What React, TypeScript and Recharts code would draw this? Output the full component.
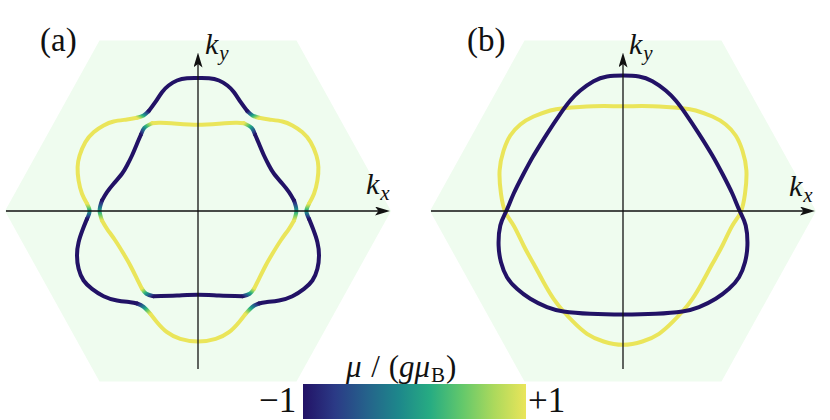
import React from 'react';
import { ComposedChart, Area, Line, XAxis, YAxis, ReferenceLine } from 'recharts';

// kx, ky (hexagon corner at kx = 1.93), third value = mu / (g muB)
// 0 marks the avoided crossings where the spin texture flips sign
type Pt = [number, number, number];

const HEX_KX = [-1.93, -0.985, 0.985, 1.93];
const HEX_KY = [0, 1.705, 1.705, 0];

const KX_AXIS = [-1.92, 1.92];
const KY_AXIS = [-1.58, 1.585];

// panel (a), outer band
const OUTER_A: Pt[] = [
  [0, 1.33, -1], [-0.11, 1.328, -1], [-0.21, 1.305, -1], [-0.294, 1.255, -1], [-0.36, 1.188, -1],
  [-0.427, 1.088, -1], [-0.494, 0.998, -1], [-0.544, 0.955, 0], [-0.61, 0.932, 1], [-0.71, 0.915, 1],
  [-0.844, 0.895, 1], [-0.944, 0.855, 1], [-1.044, 0.788, 1], [-1.127, 0.688, 1], [-1.184, 0.555, 1],
  [-1.204, 0.438, 1], [-1.194, 0.305, 1], [-1.16, 0.172, 1], [-1.11, 0.072, 1], [-1.084, 0, 0],
  [-1.11, -0.078, -1], [-1.15, -0.178, -1], [-1.194, -0.312, -1], [-1.21, -0.445, -1], [-1.194, -0.578, -1],
  [-1.144, -0.695, -1], [-1.06, -0.778, -1], [-0.944, -0.852, -1], [-0.81, -0.895, -1], [-0.677, -0.912, -1],
  [-0.61, -0.925, -1], [-0.544, -0.958, 0], [-0.477, -1.028, 1], [-0.41, -1.112, 1], [-0.31, -1.212, 1],
  [-0.177, -1.278, 1], [0, -1.305, 1], [0.177, -1.278, 1], [0.31, -1.212, 1], [0.41, -1.112, 1],
  [0.477, -1.028, 1], [0.544, -0.958, 0], [0.61, -0.925, -1], [0.677, -0.912, -1], [0.81, -0.895, -1],
  [0.944, -0.852, -1], [1.06, -0.778, -1], [1.144, -0.695, -1], [1.194, -0.578, -1], [1.21, -0.445, -1],
  [1.194, -0.312, -1], [1.15, -0.178, -1], [1.11, -0.078, -1], [1.084, 0, 0], [1.11, 0.072, 1],
  [1.16, 0.172, 1], [1.194, 0.305, 1], [1.204, 0.438, 1], [1.184, 0.555, 1], [1.127, 0.688, 1],
  [1.044, 0.788, 1], [0.944, 0.855, 1], [0.844, 0.895, 1], [0.71, 0.915, 1], [0.61, 0.932, 1],
  [0.544, 0.955, 0], [0.494, 0.998, -1], [0.427, 1.088, -1], [0.36, 1.188, -1], [0.294, 1.255, -1],
  [0.21, 1.305, -1], [0.11, 1.328, -1],
];

// panel (a), inner band
const INNER_A: Pt[] = [
  [0, 0.862, 1], [-0.21, 0.872, 1], [-0.377, 0.882, 1], [-0.46, 0.878, 1], [-0.537, 0.832, 0],
  [-0.57, 0.765, -1], [-0.61, 0.672, -1], [-0.66, 0.555, -1], [-0.71, 0.455, -1], [-0.76, 0.372, -1],
  [-0.844, 0.272, -1], [-0.91, 0.188, -1], [-0.96, 0.105, -1], [-0.984, 0.005, 0], [-0.96, -0.095, 1],
  [-0.91, -0.178, 1], [-0.827, -0.295, 1], [-0.744, -0.428, 1], [-0.677, -0.545, 1], [-0.61, -0.678, 1],
  [-0.56, -0.778, 1], [-0.517, -0.828, 0], [-0.444, -0.852, -1], [-0.21, -0.845, -1], [0, -0.838, -1],
  [0.21, -0.845, -1], [0.444, -0.852, -1], [0.517, -0.828, 0], [0.56, -0.778, 1], [0.61, -0.678, 1],
  [0.677, -0.545, 1], [0.744, -0.428, 1], [0.827, -0.295, 1], [0.91, -0.178, 1], [0.96, -0.095, 1],
  [0.984, 0.005, 0], [0.96, 0.105, -1], [0.91, 0.188, -1], [0.844, 0.272, -1], [0.76, 0.372, -1],
  [0.71, 0.455, -1], [0.66, 0.555, -1], [0.61, 0.672, -1], [0.57, 0.765, -1], [0.537, 0.832, 0],
  [0.46, 0.878, 1], [0.377, 0.882, 1], [0.21, 0.872, 1],
];

// panel (b), spin-down band (triangle pointing up)
const BLUE_B: Pt[] = [
  [-0.894, 0.555, -1], [-0.76, 0.772, -1], [-0.627, 0.972, -1], [-0.527, 1.105, -1], [-0.427, 1.205, -1],
  [-0.294, 1.298, -1], [-0.16, 1.345, -1], [0, 1.355, -1], [0.16, 1.345, -1], [0.294, 1.298, -1],
  [0.427, 1.205, -1], [0.527, 1.105, -1], [0.627, 0.972, -1], [0.76, 0.772, -1], [0.894, 0.555, -1],
  [0.994, 0.372, -1], [1.094, 0.172, -1], [1.167, 0, -1], [1.227, -0.145, -1], [1.244, -0.345, -1],
  [1.22, -0.512, -1], [1.16, -0.662, -1], [1.06, -0.778, -1], [0.927, -0.878, -1], [0.76, -0.962, -1],
  [0.594, -1.005, -1], [0.327, -1.028, -1], [0, -1.035, -1], [-0.327, -1.028, -1], [-0.594, -1.005, -1],
  [-0.76, -0.962, -1], [-0.927, -0.878, -1], [-1.06, -0.778, -1], [-1.16, -0.662, -1], [-1.22, -0.512, -1],
  [-1.244, -0.345, -1], [-1.227, -0.145, -1], [-1.167, 0, -1], [-1.094, 0.172, -1], [-0.994, 0.372, -1],
];

// panel (b), spin-up band (triangle pointing down)
const YELLOW_B: Pt[] = [
  [-0.894, -0.528, 1], [-0.794, -0.712, 1], [-0.694, -0.878, 1], [-0.594, -1.005, 1], [-0.494, -1.112, 1],
  [-0.36, -1.228, 1], [-0.194, -1.305, 1], [0, -1.338, 1], [0.194, -1.305, 1], [0.36, -1.228, 1],
  [0.494, -1.112, 1], [0.594, -1.005, 1], [0.694, -0.878, 1], [0.794, -0.712, 1], [0.894, -0.528, 1],
  [0.994, -0.345, 1], [1.094, -0.145, 1], [1.177, -0.012, 1], [1.22, 0.172, 1], [1.234, 0.405, 1],
  [1.194, 0.605, 1], [1.127, 0.755, 1], [1.027, 0.865, 1], [0.894, 0.945, 1], [0.727, 1.005, 1],
  [0.594, 1.028, 1], [0.294, 1.048, 1], [0, 1.048, 1], [-0.294, 1.048, 1], [-0.594, 1.028, 1],
  [-0.727, 1.005, 1], [-0.894, 0.945, 1], [-1.027, 0.865, 1], [-1.127, 0.755, 1], [-1.194, 0.605, 1],
  [-1.234, 0.405, 1], [-1.22, 0.172, 1], [-1.177, -0.012, 1], [-1.094, -0.145, 1], [-0.994, -0.345, 1],
];

const CBAR_RANGE = ['\u22121', '+1'];
const CMAP = ['#221266', '#2b3a86', '#25628b', '#1d878b', '#27ac82', '#63c86b', '#acd95c', '#eae55a'];

const W = 400;
const H = 360;
const TOP = 30.5;
const FONT = "'Liberation Serif', 'DejaVu Serif', serif";

const hexData = HEX_KX.map((x, i) => ({ x, r: [-HEX_KY[i], HEX_KY[i]] }));
const muColor = (mu: number) => (mu < 0 ? CMAP[0] : CMAP[CMAP.length - 1]);
const toXY = (p: Pt) => ({ x: p[0], y: p[1] });

// cut a closed band into solid runs and short fading runs around each spin flip
function splitLoop(loop: Pt[]) {
  const n = loop.length;
  const at = (i: number) => loop[((i % n) + n) % n];
  const flips = loop.map((p, i) => (p[2] === 0 ? i : -1)).filter((i) => i >= 0);
  const bodies: { mu: number; data: { x: number; y: number }[] }[] = [];
  const fades: { from: number; to: number; data: { x: number; y: number }[] }[] = [];
  if (!flips.length) {
    bodies.push({ mu: loop[0][2], data: [...loop, loop[0], loop[1]].map(toXY) });
    return { bodies, fades };
  }
  flips.forEach((t, k) => {
    const next = k + 1 < flips.length ? flips[k + 1] : flips[0] + n;
    const run: Pt[] = [];
    for (let i = t + 1; i <= next - 1; i++) run.push(at(i));
    bodies.push({ mu: run[0][2], data: run.map(toXY) });
    fades.push({ from: at(t - 1)[2], to: at(t + 1)[2], data: [at(t - 1), at(t), at(t + 1)].map(toXY) });
  });
  return { bodies, fades };
}

function Panel({ id, left, loops }: { id: string; left: number; loops: Pt[][] }) {
  const parts = loops.map(splitLoop);
  const grads: React.ReactNode[] = [];
  const lines: React.ReactNode[] = [];
  parts.forEach((p, li) => {
    p.bodies.forEach((b, bi) => {
      lines.push(
        <Line key={`${id}-b-${li}-${bi}`} data={b.data} dataKey="y" type="natural" stroke={muColor(b.mu)}
          strokeWidth={4} strokeLinecap="round" dot={false} activeDot={false} isAnimationActive={false} />
      );
    });
  });
  parts.forEach((p, li) => {
    p.fades.forEach((f, fi) => {
      const gid = `${id}-g-${li}-${fi}`;
      const a = f.data[0];
      const b = f.data[2];
      const x1 = a.x < b.x ? 0 : a.x > b.x ? 1 : 0.5;
      const y1 = a.y > b.y ? 0 : a.y < b.y ? 1 : 0.5;
      const stops = f.from < 0 ? CMAP : [...CMAP].reverse();
      grads.push(
        <linearGradient key={gid} id={gid} x1={x1} y1={y1} x2={1 - x1} y2={1 - y1}>
          {stops.map((c, i) => <stop key={i} offset={i / (stops.length - 1)} stopColor={c} />)}
        </linearGradient>
      );
      lines.push(
        <Line key={gid} data={f.data} dataKey="y" type="natural" stroke={`url(#${gid})`}
          strokeWidth={4} strokeLinecap="round" dot={false} activeDot={false} isAnimationActive={false} />
      );
    });
  });

  return (
    <div style={{ position: 'absolute', left, top: TOP, width: W, height: H }}>
      <svg width={0} height={0} style={{ position: 'absolute' }}>
        <defs>{grads}</defs>
      </svg>
      <ComposedChart width={W} height={H} data={hexData} margin={{ top: 0, right: 0, bottom: 0, left: 0 }}>
        <XAxis type="number" dataKey="x" domain={[-2, 2]} hide allowDataOverflow />
        <YAxis type="number" domain={[-1.8, 1.8]} hide allowDataOverflow />
        <Area type="linear" dataKey="r" stroke="none" fill="#effcef" fillOpacity={1} isAnimationActive={false} />
        {lines}
        <ReferenceLine segment={[{ x: KX_AXIS[0], y: 0 }, { x: KX_AXIS[1] - 0.04, y: 0 }]} stroke="#111"
          strokeWidth={1.3} markerEnd="url(#arrowHead)" />
        <ReferenceLine segment={[{ x: 0, y: KY_AXIS[0] }, { x: 0, y: KY_AXIS[1] - 0.04 }]} stroke="#111"
          strokeWidth={1.3} markerEnd="url(#arrowHead)" />
      </ComposedChart>
    </div>
  );
}

function KLabel({ x, y, sub }: { x: number; y: number; sub: string }) {
  return (
    <text x={x} y={y} fontFamily={FONT} fontSize={30} fill="#111">
      <tspan fontStyle="italic">k</tspan>
      <tspan fontStyle="italic" fontSize={21} dx={1} dy={6}>{sub}</tspan>
    </text>
  );
}

export default function App() {
  return (
    <div style={{ position: 'absolute', left: 0, top: 0, width: 830, height: 420, background: '#fff', overflow: 'hidden' }}>
      <Panel id="pa" left={-2} loops={[OUTER_A, INNER_A]} />
      <Panel id="pb" left={423} loops={[YELLOW_B, BLUE_B]} />
      <svg width={830} height={420} style={{ position: 'absolute', left: 0, top: 0, pointerEvents: 'none' }}>
        <defs>
          <marker id="arrowHead" markerUnits="userSpaceOnUse" markerWidth={15} markerHeight={9}
            refX={11} refY={4.5} orient="auto">
            <path d="M0,0 L15,4.5 L0,9 L3.5,4.5 Z" fill="#111" />
          </marker>
          <linearGradient id="cbar" x1={0} y1={0} x2={1} y2={0}>
            {CMAP.map((c, i) => <stop key={i} offset={i / (CMAP.length - 1)} stopColor={c} />)}
          </linearGradient>
        </defs>
        <text x={40} y={51} fontFamily={FONT} fontSize={33} fill="#111">(a)</text>
        <text x={467} y={51} fontFamily={FONT} fontSize={33} fill="#111">(b)</text>
        <KLabel x={205} y={54} sub="y" />
        <KLabel x={366} y={194} sub="x" />
        <KLabel x={629} y={54} sub="y" />
        <KLabel x={789} y={196} sub="x" />
        <rect x={303} y={384} width={223} height={35} fill="url(#cbar)" />
        <text x={346} y={377} fontFamily={FONT} fontSize={31} fill="#111">
          <tspan fontStyle="italic">μ</tspan>
          <tspan dx={2}> / </tspan>
          <tspan dx={1}>(</tspan>
          <tspan fontStyle="italic">gμ</tspan>
          <tspan fontSize={21} dx={1} dy={5}>B</tspan>
          <tspan dx={1} dy={-5}>)</tspan>
        </text>
        <text x={259} y={412} fontFamily={FONT} fontSize={35} fill="#111">{CBAR_RANGE[0]}</text>
        <text x={528} y={412} fontFamily={FONT} fontSize={35} fill="#111">{CBAR_RANGE[1]}</text>
      </svg>
    </div>
  );
}
